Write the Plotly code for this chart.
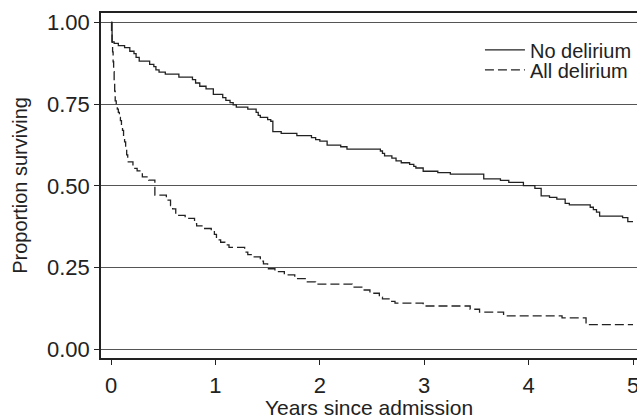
import plotly.graph_objects as go

# No delirium (Kaplan-Meier step estimates)
no_del_t = [0, 0.01, 0.03, 0.07, 0.13, 0.18, 0.22, 0.24, 0.27, 0.37, 0.41, 0.43, 0.46, 0.52,
            0.65, 0.78, 0.81, 0.85, 0.91, 0.98, 1.07, 1.10, 1.14, 1.17, 1.20, 1.31, 1.39, 1.41,
            1.43, 1.50, 1.53, 1.55, 1.63, 1.78, 1.92, 1.96, 2.00, 2.07, 2.20, 2.26, 2.58, 2.60,
            2.62, 2.69, 2.73, 2.78, 2.86, 2.90, 2.92, 2.99, 3.13, 3.25, 3.57, 3.73, 3.81, 3.95,
            4.06, 4.12, 4.20, 4.27, 4.35, 4.39, 4.59, 4.62, 4.65, 4.68, 4.90, 4.95, 5.00]
no_del_s = [1.0, 0.941, 0.936, 0.929, 0.923, 0.912, 0.905, 0.893, 0.882, 0.872, 0.865, 0.855, 0.848, 0.842,
            0.833, 0.825, 0.815, 0.805, 0.797, 0.780, 0.770, 0.762, 0.755, 0.748, 0.741, 0.735, 0.725, 0.716,
            0.710, 0.703, 0.698, 0.666, 0.661, 0.654, 0.648, 0.642, 0.637, 0.625, 0.620, 0.613, 0.607, 0.600,
            0.592, 0.585, 0.577, 0.571, 0.566, 0.560, 0.555, 0.545, 0.541, 0.536, 0.522, 0.517, 0.511, 0.501,
            0.493, 0.470, 0.465, 0.460, 0.447, 0.442, 0.435, 0.428, 0.420, 0.408, 0.403, 0.391, 0.391]

# All delirium
all_del_t = [0, 0.005, 0.01, 0.015, 0.02, 0.025, 0.03, 0.035, 0.04, 0.05, 0.06, 0.07, 0.08, 0.09,
             0.10, 0.11, 0.12, 0.13, 0.14, 0.15, 0.16, 0.165, 0.21, 0.25, 0.30, 0.36, 0.42, 0.53,
             0.57, 0.59, 0.62, 0.71, 0.80, 0.82, 0.88, 0.96, 0.99, 1.01, 1.05, 1.09, 1.13, 1.28,
             1.31, 1.35, 1.43, 1.46, 1.50, 1.57, 1.66, 1.76, 1.86, 1.96, 2.31, 2.41, 2.48, 2.57,
             2.60, 2.68, 2.72, 2.99, 3.44, 3.53, 3.76, 4.32, 4.55, 5.00]
all_del_s = [1.0, 0.97, 0.94, 0.91, 0.88, 0.85, 0.82, 0.79, 0.76, 0.745, 0.735, 0.725, 0.71, 0.70,
             0.685, 0.67, 0.655, 0.635, 0.615, 0.595, 0.58, 0.574, 0.554, 0.546, 0.528, 0.518, 0.472, 0.457,
             0.44, 0.43, 0.41, 0.401, 0.385, 0.378, 0.370, 0.362, 0.352, 0.335, 0.328, 0.320, 0.312, 0.298,
             0.290, 0.283, 0.27, 0.262, 0.247, 0.238, 0.228, 0.217, 0.207, 0.200, 0.191, 0.182, 0.172, 0.160,
             0.155, 0.147, 0.142, 0.133, 0.123, 0.114, 0.103, 0.097, 0.076, 0.076]

x_ticks = [0, 1, 2, 3, 4, 5]
y_ticks = [0, 0.25, 0.5, 0.75, 1.0]
y_tick_labels = ["0.00", "0.25", "0.50", "0.75", "1.00"]

ink = "#222222"
font_family = "Liberation Sans, Arial, sans-serif"

fig = go.Figure()
fig.add_trace(go.Scatter(x=no_del_t, y=no_del_s, mode="lines", name="No delirium",
                         legend="legend",
                         line=dict(color=ink, width=1.3, shape="hv")))
fig.add_trace(go.Scatter(x=all_del_t, y=all_del_s, mode="lines", name="All delirium",
                         legend="legend2",
                         line=dict(color=ink, width=1.3, shape="hv", dash="9px,4px")))

leg_common = dict(xanchor="left", yanchor="middle", bgcolor="rgba(0,0,0,0)",
                  font=dict(size=20, color=ink), itemwidth=40, borderwidth=0)

fig.update_layout(
    width=637, height=419,
    margin=dict(l=101, r=0, t=13, b=61, autoexpand=False),
    paper_bgcolor="white", plot_bgcolor="white",
    font=dict(family=font_family, size=20, color=ink),
    showlegend=True,
    legend=dict(x=0.707, y=0.893, **leg_common),
    legend2=dict(x=0.707, y=0.835, **leg_common),
)
fig.update_xaxes(
    range=[-0.096, 5.038], tickvals=x_ticks, ticktext=[str(v) for v in x_ticks],
    showgrid=False, zeroline=False, automargin=False,
    showline=True, linecolor=ink, linewidth=1.5, mirror=True,
    ticks="outside", ticklen=5, tickcolor=ink, tickwidth=1.2,
    tickfont=dict(size=22), ticklabelstandoff=2, ticklabeloverflow="allow",
    title=dict(text="Years since admission", standoff=13, font=dict(size=21)),
)
fig.update_yaxes(
    range=[-0.026, 1.029], tickvals=y_ticks, ticktext=y_tick_labels,
    showgrid=True, gridcolor="#555555", gridwidth=1, zeroline=False, automargin=False,
    showline=True, linecolor=ink, linewidth=1.5,
    ticks="outside", ticklen=5, tickcolor=ink, tickwidth=1.2,
    tickfont=dict(size=22),
    title=dict(text="Proportion surviving", standoff=14, font=dict(size=20)),
)

fig.write_html("out.html", config={"displayModeBar": False},
               post_script="document.body.style.margin='0';")
